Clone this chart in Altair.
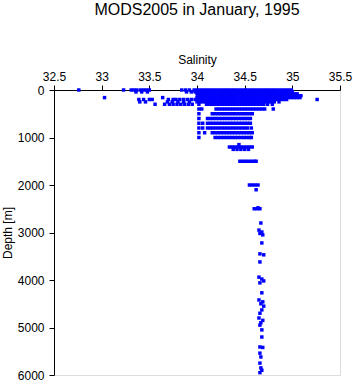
import altair as alt
import pandas as pd

# ---- data: salinity values at each depth level (m) ----
s_0 = [32.76, 33.23, 33.31, 33.34, 33.37, 33.41, 33.44, 33.47, 33.50, 33.84, 33.88, 33.92,
       33.97, 34.00, 34.03, 34.06, 34.09, 34.12, 34.15, 34.18, 34.21, 34.24, 34.27, 34.30,
       34.33, 34.36, 34.39, 34.42, 34.45, 34.48, 34.51, 34.54, 34.57, 34.60, 34.63, 34.66,
       34.69, 34.72, 34.75, 34.78, 34.81, 34.84, 34.87, 34.90, 34.93, 34.96, 34.99]
s_40 = [33.36, 33.42, 33.48, 33.89, 33.94, 33.98, 34.01, 34.04, 34.07, 34.10, 34.13, 34.16,
        34.19, 34.22, 34.25, 34.28, 34.31, 34.34, 34.37, 34.40, 34.43, 34.46, 34.49, 34.52,
        34.55, 34.58, 34.61, 34.64, 34.67, 34.70, 34.73, 34.76, 34.79, 34.82, 34.85, 34.88,
        34.91, 34.94, 34.97, 35.00]
s_80 = [34.00, 34.03, 34.06, 34.09, 34.12, 34.15, 34.18, 34.21, 34.24, 34.27, 34.30, 34.33,
        34.36, 34.39, 34.42, 34.45, 34.48, 34.51, 34.54, 34.57, 34.60, 34.63, 34.66, 34.69,
        34.72, 34.75, 34.78, 34.81, 34.84, 34.87, 34.90, 34.93, 34.96, 34.99, 35.02, 35.05]
s_120 = [34.01, 34.04, 34.07, 34.10, 34.13, 34.16, 34.19, 34.22, 34.25, 34.28, 34.31, 34.34,
         34.37, 34.40, 34.43, 34.46, 34.49, 34.52, 34.55, 34.58, 34.61, 34.64, 34.67, 34.70,
         34.73, 34.76, 34.79, 34.82, 34.85, 34.88, 34.91, 34.94, 34.97, 35.00, 35.03, 35.06,
         35.09]
s_160 = [33.03, 33.64, 34.00, 34.03, 34.06, 34.09, 34.12, 34.15, 34.18, 34.21, 34.24, 34.27,
         34.30, 34.33, 34.36, 34.39, 34.42, 34.45, 34.48, 34.51, 34.54, 34.57, 34.60, 34.63,
         34.66, 34.69, 34.72, 34.75, 34.78, 34.81, 34.84, 34.87, 34.90, 34.93, 34.96, 34.99,
         35.02, 35.05, 35.08]
s_200 = [33.39, 33.44, 33.50, 33.53, 33.70, 33.75, 33.78, 33.82, 33.86, 33.90, 33.94, 33.98,
         34.01, 34.04, 34.07, 34.10, 34.13, 34.16, 34.19, 34.22, 34.25, 34.28, 34.31, 34.34,
         34.37, 34.40, 34.43, 34.46, 34.49, 34.52, 34.55, 34.58, 34.61, 34.64, 34.67, 34.70,
         34.73, 34.76, 34.79, 34.82, 34.85, 34.88, 34.91, 34.94, 35.26]
s_250 = [33.40, 33.46, 33.69, 33.74, 33.80, 33.86, 33.92, 34.00, 34.03, 34.06, 34.09, 34.12,
         34.15, 34.18, 34.21, 34.24, 34.27, 34.30, 34.33, 34.36, 34.39, 34.42, 34.45, 34.48,
         34.51, 34.54, 34.57, 34.60, 34.63, 34.66, 34.69, 34.72, 34.75, 34.78, 34.81, 34.86]
s_300 = [33.56, 33.66, 33.71, 33.75, 33.79, 33.83, 33.87, 33.91, 33.95, 34.02, 34.10, 34.13,
         34.16, 34.19, 34.22, 34.25, 34.28, 34.31, 34.34, 34.37, 34.40, 34.43, 34.46, 34.49,
         34.52, 34.55, 34.58, 34.61, 34.64, 34.67, 34.70, 34.74, 34.79]
s_400 = [34.02, 34.05, 34.20, 34.23, 34.26, 34.29, 34.32, 34.35, 34.38, 34.41, 34.44, 34.47,
         34.50, 34.53, 34.56, 34.59, 34.62, 34.65, 34.68, 34.71, 34.80]
s_500 = [34.02, 34.16, 34.19, 34.22, 34.25, 34.28, 34.31, 34.34, 34.37, 34.40, 34.43, 34.46,
         34.49, 34.52, 34.55, 34.58]
s_600 = [34.02, 34.11, 34.14, 34.17, 34.20, 34.23, 34.26, 34.29, 34.32, 34.35, 34.38, 34.41,
         34.44, 34.47, 34.50, 34.53, 34.56]
s_700 = [34.02, 34.06, 34.11, 34.14, 34.17, 34.20, 34.23, 34.26, 34.29, 34.32, 34.35, 34.38,
         34.41, 34.44, 34.47, 34.50, 34.53, 34.56]
s_800 = [34.02, 34.06, 34.11, 34.14, 34.17, 34.20, 34.23, 34.26, 34.29, 34.32, 34.35, 34.38,
         34.41, 34.44, 34.47, 34.50, 34.53, 34.57]
s_900 = [34.02, 34.08, 34.16, 34.19, 34.22, 34.25, 34.28, 34.31, 34.34, 34.37, 34.40, 34.43,
         34.46, 34.49, 34.52, 34.55, 34.58]
s_1000 = [34.02, 34.19, 34.22, 34.25, 34.28, 34.31, 34.34, 34.37, 34.40, 34.43, 34.46, 34.49,
          34.52, 34.55, 34.57]
s_1150 = [34.44]
s_1200 = [34.34, 34.37, 34.40, 34.43, 34.46, 34.49, 34.52, 34.55, 34.58]
s_1250 = [34.38, 34.42, 34.46, 34.50, 34.54]
s_1500 = [34.45, 34.48, 34.51, 34.54, 34.57, 34.60, 34.62]
s_2000 = [34.55, 34.58, 34.61, 34.64]
s_2100 = [34.62]
s_2500 = [34.60, 34.63, 34.66]

# deeper casts: one value per depth
deep_depth = [2480, 2800, 2950, 2990, 3020, 3050, 3220, 3450, 3470, 3620, 3940, 3980,
              4020, 4060, 4270, 4420, 4460, 4500, 4550, 4630, 4700, 4800, 4850, 4900,
              4950, 5050, 5200, 5410, 5420, 5540, 5620, 5750, 5850, 5900, 5950]
deep_sal = [34.64, 34.67, 34.65, 34.68, 34.66, 34.69, 34.68, 34.66, 34.70, 34.66, 34.65,
            34.68, 34.70, 34.66, 34.68, 34.65, 34.69, 34.67, 34.70, 34.68, 34.66, 34.65,
            34.69, 34.67, 34.66, 34.68, 34.68, 34.66, 34.69, 34.66, 34.67, 34.66, 34.67,
            34.68, 34.66]

levels = [(0, s_0), (40, s_40), (80, s_80), (120, s_120), (160, s_160), (200, s_200),
          (250, s_250), (300, s_300), (400, s_400), (500, s_500), (600, s_600),
          (700, s_700), (800, s_800), (900, s_900), (1000, s_1000), (1150, s_1150),
          (1200, s_1200), (1250, s_1250), (1500, s_1500), (2000, s_2000),
          (2100, s_2100), (2500, s_2500)]

rows = []
for d, sal in levels:
    for s in sal:
        rows.append({"salinity": s, "depth": d})
for d, s in zip(deep_depth, deep_sal):
    rows.append({"salinity": s, "depth": d})
df = pd.DataFrame(rows)

x_ticks = [32.5, 33, 33.5, 34, 34.5, 35, 35.5]
y_ticks = [0, 1000, 2000, 3000, 4000, 5000, 6000]

FONT = "Liberation Sans"

chart = alt.Chart(df).mark_square(size=12, color="#0000ff", opacity=1, filled=True,
                                  strokeWidth=0).encode(
    x=alt.X("salinity:Q",
            scale=alt.Scale(domain=[32.5, 35.5], nice=False, zero=False),
            axis=alt.Axis(orient="top", values=x_ticks, format="~g", title="Salinity",
                          grid=False, domainColor="black", tickColor="black",
                          tickSize=5, labelPadding=2, labelFontSize=12, labelFont=FONT,
                          labelColor="black", labelFlush=False, titleFont=FONT,
                          titleFontSize=12, titleFontWeight="normal", titleColor="black",
                          titlePadding=4)),
    y=alt.Y("depth:Q",
            scale=alt.Scale(domain=[0, 6000], reverse=True, nice=False, zero=False),
            axis=alt.Axis(values=y_ticks, format="d", title="Depth [m]",
                          grid=False, domainColor="black", tickColor="black",
                          tickSize=5, labelPadding=5, labelFontSize=12, labelFont=FONT,
                          labelColor="black", labelFlush=False, titleFont=FONT,
                          titleFontSize=12, titleFontWeight="normal", titleColor="black",
                          titlePadding=3)),
).properties(
    width=286, height=285,
    title=alt.TitleParams("MODS2005 in January, 1995", font=FONT, fontSize=16,
                          fontWeight="normal", color="black", anchor="middle", offset=35),
    padding={"left": 54, "top": 90, "right": 13, "bottom": 9},
    autosize="none",
).configure_view(stroke=None).configure(background="white")

chart.save("out.html", embed_options={"renderer": "svg", "actions": False})
